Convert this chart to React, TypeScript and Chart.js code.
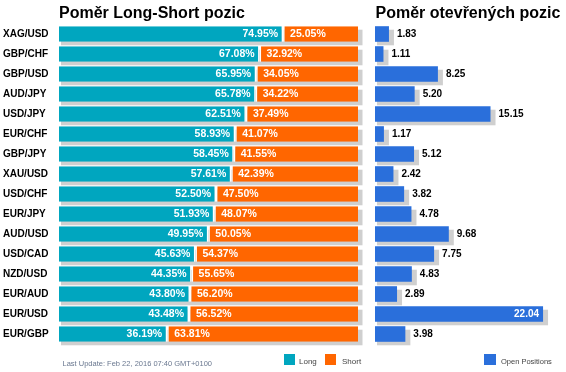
import React, { useEffect, useRef } from "react";
import { Chart, registerables } from "chart.js";

Chart.register(...registerables);

const categories = [
  "XAG/USD", "GBP/CHF", "GBP/USD", "AUD/JPY", "USD/JPY", "EUR/CHF", "GBP/JPY", "XAU/USD",
  "USD/CHF", "EUR/JPY", "AUD/USD", "USD/CAD", "NZD/USD", "EUR/AUD", "EUR/USD", "EUR/GBP",
];
const longValues = [74.95, 67.08, 65.95, 65.78, 62.51, 58.93, 58.45, 57.61, 52.5, 51.93, 49.95, 45.63, 44.35, 43.8, 43.48, 36.19];
const shortValues = [25.05, 32.92, 34.05, 34.22, 37.49, 41.07, 41.55, 42.39, 47.5, 48.07, 50.05, 54.37, 55.65, 56.2, 56.52, 63.81];
const openValues = [1.83, 1.11, 8.25, 5.2, 15.15, 1.17, 5.12, 2.42, 3.82, 4.78, 9.68, 7.75, 4.83, 2.89, 22.04, 3.98];

const leftTitle = "Poměr Long-Short pozic";
const rightTitle = "Poměr otevřených pozic";
const footerText = "Last Update: Feb 22, 2016 07:40 GMT+0100";
const longLabel = "Long";
const shortLabel = "Short";
const openLabel = "Open Positions";

const TEAL = "#00A6BF";
const ORANGE = "#FF6600";
const BLUE = "#2A6FDB";
const SHADOW = "#CFCFCF";
const FONT = '"Liberation Sans", Arial, sans-serif';

const fmtPct = (v: number) => v.toFixed(2) + "%";
const fmtNum = (v: number) => v.toFixed(2);

export default function App() {
  const leftRef = useRef<HTMLCanvasElement | null>(null);
  const rightRef = useRef<HTMLCanvasElement | null>(null);

  useEffect(() => {
    const leftShadow = {
      id: "leftShadow",
      beforeDatasetsDraw(chart: any) {
        const ctx = chart.ctx;
        const m0 = chart.getDatasetMeta(0);
        const m1 = chart.getDatasetMeta(1);
        ctx.save();
        ctx.fillStyle = SHADOW;
        m0.data.forEach((el: any, i: number) => {
          const a = el.getProps(["x", "y", "base", "height"], true);
          const b = m1.data[i].getProps(["x", "y", "base", "height"], true);
          const top = a.y - a.height / 2;
          ctx.fillRect(a.base + 2, top + 3.5, b.x - a.base + 2.5, a.height);
        });
        ctx.restore();
      },
    };
    const leftLabels = {
      id: "leftLabels",
      afterDatasetsDraw(chart: any) {
        const ctx = chart.ctx;
        const m0 = chart.getDatasetMeta(0);
        const m1 = chart.getDatasetMeta(1);
        ctx.save();
        ctx.font = `bold 10.5px ${FONT}`;
        ctx.fillStyle = "#fff";
        ctx.textBaseline = "middle";
        m0.data.forEach((el: any, i: number) => {
          const a = el.getProps(["x", "y", "base"], true);
          ctx.textAlign = "right";
          ctx.fillText(fmtPct(longValues[i]), a.x - 5, a.y + 0.5);
          const b = m1.data[i].getProps(["x", "y", "base"], true);
          ctx.textAlign = "left";
          ctx.fillText(fmtPct(shortValues[i]), b.base + 7, b.y + 0.5);
        });
        ctx.restore();
      },
    };
    const leftDecor = {
      id: "leftDecor",
      afterDraw(chart: any) {
        const ctx = chart.ctx;
        const ca = chart.chartArea;
        ctx.save();
        ctx.font = `bold 16px ${FONT}`;
        ctx.fillStyle = "#000";
        ctx.textAlign = "left";
        ctx.textBaseline = "alphabetic";
        ctx.fillText(leftTitle, ca.left, 17.5);
        ctx.font = `7.5px ${FONT}`;
        ctx.fillStyle = "#6A7890";
        ctx.fillText(footerText, ca.left + 3.5, 366);
        ctx.fillStyle = TEAL;
        ctx.fillRect(284, 354, 11, 11);
        ctx.fillStyle = ORANGE;
        ctx.fillRect(325, 354, 11, 11);
        ctx.font = `8px ${FONT}`;
        ctx.fillStyle = "#444";
        ctx.fillText(longLabel, 299, 363.5);
        ctx.fillText(shortLabel, 342, 363.5);
        ctx.restore();
      },
    };

    const left = new Chart(leftRef.current as HTMLCanvasElement, {
      type: "bar",
      data: {
        labels: categories,
        datasets: [
          {
            label: longLabel,
            data: longValues,
            backgroundColor: TEAL,
            borderColor: "#fff",
            borderWidth: { top: 0, right: 1.5, bottom: 0, left: 0 },
            borderSkipped: false,
            barPercentage: 0.78,
            categoryPercentage: 1,
          },
          {
            label: shortLabel,
            data: shortValues,
            backgroundColor: ORANGE,
            borderColor: "#fff",
            borderWidth: { top: 0, right: 0, bottom: 0, left: 1.5 },
            borderSkipped: false,
            barPercentage: 0.78,
            categoryPercentage: 1,
          },
        ],
      },
      options: {
        indexAxis: "y",
        responsive: false,
        animation: false,
        layout: { padding: { left: 3, right: 12, top: 24, bottom: 28 } },
        scales: {
          x: { stacked: true, min: 0, max: 100, display: false },
          y: {
            stacked: true,
            grid: { display: false },
            border: { display: false },
            ticks: {
              crossAlign: "far",
              autoSkip: false,
              padding: 0,
              color: "#000",
              font: { family: FONT, weight: "bold", size: 10 },
            },
            afterFit(scale: any) {
              scale.width = 56;
            },
          },
        },
        plugins: { legend: { display: false }, tooltip: { enabled: false }, title: { display: false } },
      } as any,
      plugins: [leftShadow, leftLabels, leftDecor],
    });

    const rightShadow = {
      id: "rightShadow",
      beforeDatasetsDraw(chart: any) {
        const ctx = chart.ctx;
        const m = chart.getDatasetMeta(0);
        ctx.save();
        ctx.fillStyle = SHADOW;
        m.data.forEach((el: any) => {
          const a = el.getProps(["x", "y", "base", "height"], true);
          ctx.fillRect(a.base + 2, a.y - a.height / 2 + 3.5, a.x - a.base + 3, a.height);
        });
        ctx.restore();
      },
    };
    const rightLabels = {
      id: "rightLabels",
      afterDatasetsDraw(chart: any) {
        const ctx = chart.ctx;
        const m = chart.getDatasetMeta(0);
        ctx.save();
        ctx.font = `bold 10px ${FONT}`;
        ctx.textBaseline = "middle";
        m.data.forEach((el: any, i: number) => {
          const a = el.getProps(["x", "y", "base"], true);
          const txt = fmtNum(openValues[i]);
          const w = ctx.measureText(txt).width;
          if (a.x + 8 + w > chart.width - 2) {
            ctx.fillStyle = "#fff";
            ctx.textAlign = "right";
            ctx.fillText(txt, a.x - 4, a.y + 0.5);
          } else {
            ctx.fillStyle = "#000";
            ctx.textAlign = "left";
            ctx.fillText(txt, a.x + 8, a.y + 0.5);
          }
        });
        ctx.restore();
      },
    };
    const rightDecor = {
      id: "rightDecor",
      afterDraw(chart: any) {
        const ctx = chart.ctx;
        const ca = chart.chartArea;
        ctx.save();
        ctx.font = `bold 16px ${FONT}`;
        ctx.fillStyle = "#000";
        ctx.textAlign = "left";
        ctx.textBaseline = "alphabetic";
        ctx.fillText(rightTitle, ca.left + 0.5, 17.5);
        ctx.fillStyle = BLUE;
        ctx.fillRect(118, 354, 12, 11);
        ctx.font = `7.5px ${FONT}`;
        ctx.fillStyle = "#444";
        ctx.fillText(openLabel, 135, 363.5);
        ctx.restore();
      },
    };

    const right = new Chart(rightRef.current as HTMLCanvasElement, {
      type: "bar",
      data: {
        labels: categories,
        datasets: [
          {
            label: openLabel,
            data: openValues,
            backgroundColor: BLUE,
            borderWidth: 0,
            barPercentage: 0.78,
            categoryPercentage: 1,
          },
        ],
      },
      options: {
        indexAxis: "y",
        responsive: false,
        animation: false,
        layout: { padding: { left: 9, right: 8, top: 24, bottom: 28 } },
        scales: {
          x: { min: 0, max: 24, display: false },
          y: { display: false },
        },
        plugins: { legend: { display: false }, tooltip: { enabled: false }, title: { display: false } },
      } as any,
      plugins: [rightShadow, rightLabels, rightDecor],
    });

    return () => {
      left.destroy();
      right.destroy();
    };
  }, []);

  return (
    <div style={{ position: "fixed", left: 0, top: 0, width: 566, height: 372, background: "#fff", overflow: "hidden" }}>
      <canvas ref={leftRef} width={370} height={372} style={{ position: "absolute", left: 0, top: 0, width: 370, height: 372 }} />
      <canvas ref={rightRef} width={200} height={372} style={{ position: "absolute", left: 366, top: 0, width: 200, height: 372 }} />
    </div>
  );
}
